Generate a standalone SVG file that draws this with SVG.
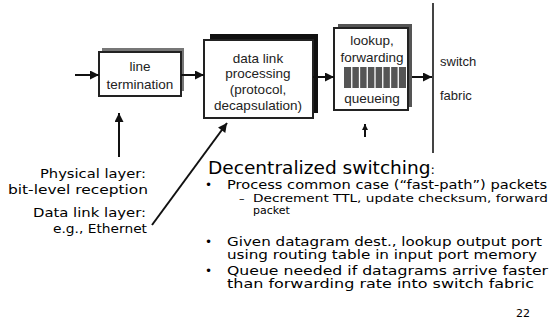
<svg xmlns="http://www.w3.org/2000/svg" width="551" height="321" viewBox="0 0 551 321">
<defs>
<style>
.box{fill:#fff;stroke:#222;stroke-width:2}
.bt{font-family:"Liberation Sans",Arial,sans-serif;font-size:13.5px;fill:#222;text-anchor:middle}
.st{font-family:"Liberation Sans",Arial,sans-serif;font-size:13px;fill:#222}
.cm{font-family:"DejaVu Sans","Noto Sans",sans-serif;fill:#000}
.con{stroke:#111;stroke-width:2;fill:none;marker-end:url(#ah)}
</style>
<marker id="ah" viewBox="0 0 10 10" refX="10" refY="5" markerWidth="10" markerHeight="9" markerUnits="userSpaceOnUse" orient="auto"><path d="M0,0 L10,5 L0,10 z" fill="#111"/></marker>
<marker id="ahs" viewBox="0 0 10 10" refX="10" refY="5" markerWidth="7" markerHeight="6" markerUnits="userSpaceOnUse" orient="auto"><path d="M0,0 L10,5 L0,10 z" fill="#111"/></marker>
</defs>
<rect width="551" height="321" fill="#fff"/>

<g id="line-termination">
<rect x="102" y="48" width="82" height="43" fill="#777"/>
<rect class="box" x="99" y="52" width="82" height="44"/>
<text class="bt" x="140" y="71">line</text>
<text class="bt" x="140" y="89">termination</text>
</g>

<g id="data-link-processing">
<rect x="210" y="34" width="108" height="79" fill="#111"/>
<rect class="box" x="204" y="40" width="109" height="78"/>
<text class="bt" x="258" y="63">data link</text>
<text class="bt" x="258" y="78">processing</text>
<text class="bt" x="258" y="94">(protocol,</text>
<text class="bt" x="258" y="110">decapsulation)</text>
</g>

<g id="lookup-forwarding">
<rect x="338" y="24" width="74" height="83" fill="#555"/>
<rect class="box" x="334" y="28" width="74" height="82"/>
<text class="bt" x="372" y="45">lookup,</text>
<text class="bt" x="372" y="62">forwarding</text>
<rect x="344" y="67" width="62" height="21" fill="#555"/>
<g stroke="#fff" stroke-width="1.3">
<line x1="351.75" y1="67" x2="351.75" y2="88"/>
<line x1="359.5" y1="67" x2="359.5" y2="88"/>
<line x1="367.25" y1="67" x2="367.25" y2="88"/>
<line x1="375" y1="67" x2="375" y2="88"/>
<line x1="382.75" y1="67" x2="382.75" y2="88"/>
<line x1="390.5" y1="67" x2="390.5" y2="88"/>
<line x1="398.25" y1="67" x2="398.25" y2="88"/>
</g>
<text class="bt" x="372" y="103">queueing</text>
</g>

<g id="switch-fabric">
<line x1="433" y1="3" x2="433" y2="153" stroke="#444" stroke-width="2"/>
<text class="st" x="440" y="66">switch</text>
<text class="st" x="440" y="100">fabric</text>
</g>

<g id="connectors">
<line class="con" x1="75" y1="75" x2="99" y2="75"/>
<line class="con" x1="181" y1="75" x2="204" y2="75"/>
<line class="con" x1="313" y1="77" x2="334" y2="77"/>
<line class="con" x1="412" y1="77" x2="432" y2="77"/>
<line class="con" x1="119" y1="157" x2="119" y2="113"/>
<line class="con" x1="152" y1="225" x2="227" y2="123"/>
<line x1="365" y1="137" x2="365" y2="124" stroke="#111" stroke-width="2" marker-end="url(#ahs)"/>
</g>

<g id="layer-labels" class="cm" font-size="13" text-anchor="end">
<text x="146" y="178" textLength="106" lengthAdjust="spacingAndGlyphs">Physical layer:</text>
<text x="148" y="194" textLength="140" lengthAdjust="spacingAndGlyphs">bit-level reception</text>
<text x="146" y="217" textLength="113" lengthAdjust="spacingAndGlyphs">Data link layer:</text>
<text x="147" y="233" textLength="94" lengthAdjust="spacingAndGlyphs">e.g., Ethernet</text>
</g>

<g id="decentralized-switching" class="cm">
<text x="208" y="174" font-size="17" textLength="227" lengthAdjust="spacingAndGlyphs">Decentralized switching<tspan font-size="12">:</tspan></text>
<g font-size="12">
<text x="205" y="189">•</text>
<text x="227" y="189" textLength="320" lengthAdjust="spacingAndGlyphs">Process common case (“fast-path”) packets</text>
<text x="205" y="246">•</text>
<text x="227" y="246" textLength="315" lengthAdjust="spacingAndGlyphs">Given datagram dest., lookup output port</text>
<text x="227" y="259" textLength="310" lengthAdjust="spacingAndGlyphs">using routing table in input port memory</text>
<text x="205" y="275">•</text>
<text x="227" y="275" textLength="321" lengthAdjust="spacingAndGlyphs">Queue needed if datagrams arrive faster</text>
<text x="227" y="288" textLength="307" lengthAdjust="spacingAndGlyphs">than forwarding rate into switch fabric</text>
</g>
<g font-size="11">
<text x="239" y="202">–</text>
<text x="253" y="202" textLength="295" lengthAdjust="spacingAndGlyphs">Decrement TTL, update checksum, forward</text>
<text x="253" y="214">packet</text>
</g>
<text x="530" y="317" font-size="11" text-anchor="end">22</text>
</g>
</svg>
